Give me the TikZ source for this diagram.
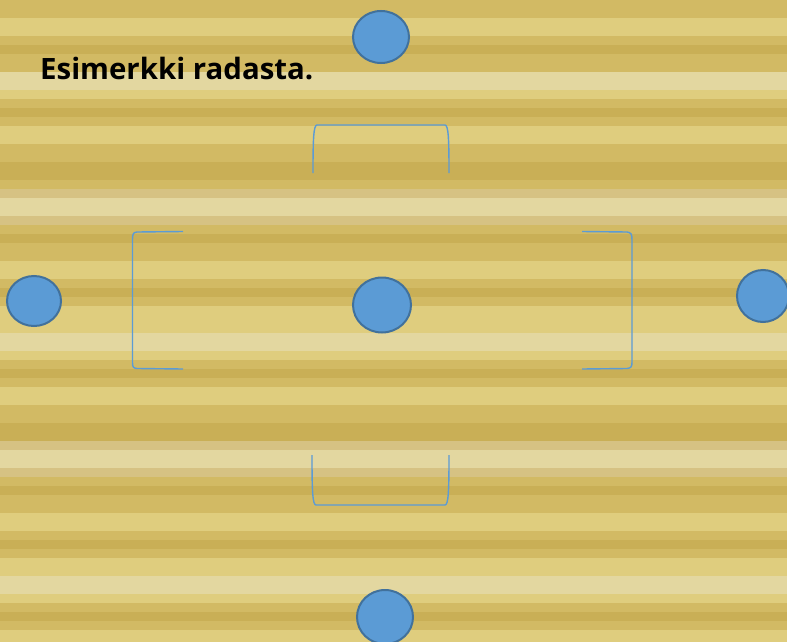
\documentclass[tikz,border=0pt]{standalone}
\usepackage{fontspec}
\newfontfamily\titlefont{Open Sans}
\usetikzlibrary{shapes.geometric}
\definecolor{stA}{HTML}{C9AF56}
\definecolor{stB}{HTML}{D2BA64}
\definecolor{stC}{HTML}{DFCD7E}
\definecolor{stD}{HTML}{E3D7A0}
\definecolor{stE}{HTML}{D6C283}
\definecolor{ballfill}{HTML}{5B9BD5}
\definecolor{balledge}{HTML}{41719C}
\begin{document}
\begin{tikzpicture}[x=1pt,y=-1pt,
  ball/.style={ellipse,draw=balledge,fill=ballfill,line width=2pt,inner sep=0pt},
  wall/.style={draw=ballfill,line width=1.4pt}]
\useasboundingbox (0,0) rectangle (787,642);
\foreach \c [count=\i from 0] in {B,B,C,C,B,A,B,B,D,D,C,B,A,B,C,C,B,B,A,A,B,E,D,D,E,B,A,B,B,C,C,B,A,B,C,C,C,D,D,C,B,A,B,C,C,B,B,A,A,E,D,D,E,B,A,B,B,C,C,B,A,B,C,C,D,D,C,B,A,B,C,C}
  \fill[st\c] (0,9*\i) rectangle (787,9*\i+9);
\node[anchor=base west,inner sep=0pt,font=\titlefont\bfseries\fontsize{29.4}{34}\selectfont] (title) at (40,79) {Esimerkki radasta.};
\node[ball,minimum width=56,minimum height=52] (ylapallo) at (381,37) {};
\node[ball,minimum width=54,minimum height=50] (vasenpallo) at (34,301) {};
\node[ball,minimum width=58,minimum height=55] (keskipallo) at (382,305) {};
\node[ball,minimum width=52,minimum height=52] (oikeapallo) at (763,296) {};
\node[ball,minimum width=56,minimum height=54] (alapallo) at (385,617) {};
% esteet
\draw[wall] (313,173) .. controls (313,140) and (313.5,125) .. (317,125) -- (445,125) .. controls (448.5,125) and (449,140) .. (449,173);
\draw[wall] (183,231.5) -- (137,232) .. controls (133,232.5) and (132.5,234) .. (132.5,240) -- (132.5,362) .. controls (132.5,367) and (133,368) .. (137,368.5) -- (183,369);
\draw[wall] (582,231.5) -- (627,232) .. controls (631,232.5) and (632,234) .. (632,240) -- (632,362) .. controls (632,367) and (631,368) .. (627,368.5) -- (582,369);
\draw[wall] (312,455) .. controls (312,490) and (312.5,505) .. (316,505) -- (445,505) .. controls (448.5,505) and (449,490) .. (449,455);
\end{tikzpicture}
\end{document}
